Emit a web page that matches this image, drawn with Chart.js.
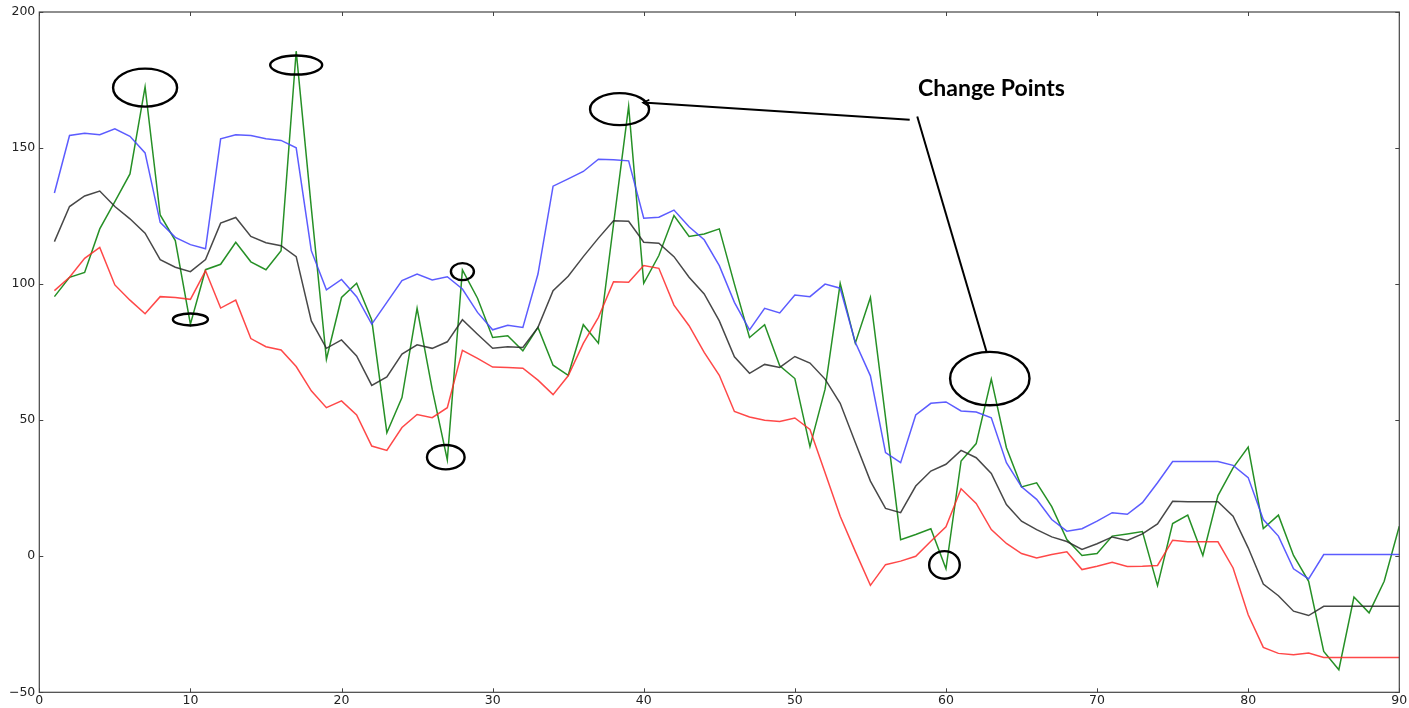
<!DOCTYPE html>
<html>
<head>
<meta charset="utf-8">
<script src="https://cdn.jsdelivr.net/npm/chart.js@4/dist/chart.umd.min.js"></script>
<style>
  html, body { margin: 0; padding: 0; background: #fff; }
  #wrap { width: 1409px; height: 708px; position: relative; }
</style>
</head>
<body>
<div id="wrap"><canvas id="c" width="1409" height="708"></canvas></div>
<script>
// Time steps
const steps = [1,2,3,4,5,6,7,8,9,10,11,12,13,14,15,16,17,18,19,20,21,22,23,24,25,26,27,28,29,30,
  31,32,33,34,35,36,37,38,39,40,41,42,43,44,45,46,47,48,49,50,51,52,53,54,55,56,57,58,59,60,
  61,62,63,64,65,66,67,68,69,70,71,72,73,74,75,76,77,78,79,80,81,82,83,84,85,86,87,88,89,90];

// Observed signal
const observed = [95.4,102.5,104.3,120.3,130.3,140.5,172.5,125.4,116,85.3,105.3,107.3,115.4,108.2,105.3,112.3,185.6,128,72.4,95.1,
  100.3,86.8,45.4,58.3,91.1,61.4,35.4,105.2,94.8,80.4,81,75.5,84.1,70.2,66.5,85.1,78.3,122,165.3,100.3,
  110.5,125.2,117.5,118.4,120.3,100,80.4,85.1,70,65.3,40.3,61.4,100.3,78.3,95.1,51,6.1,8,10.1,-4.6,
  35,41.4,65.1,39.9,25.5,27,18.2,6.1,0.3,1,7.4,8.2,9.1,-10.8,12,15.1,0.3,22.3,32.5,40.1,
  10.2,15.1,0.3,-9.2,-35,-41.7,-15,-20.8,-9.2,11];

// Upper band
const upper = [133.5,154.6,155.4,154.9,157.1,154.3,148.2,122.7,117.2,114.5,113,153.4,154.9,154.6,153.4,152.8,150.1,112.3,97.9,101.7,
  95.4,85.3,93.3,101.3,103.7,101.5,102.7,98.2,89.6,83.2,84.9,84.1,103.7,136,138.7,141.4,145.9,145.7,145.3,124.2,
  124.6,127.2,121.1,116.3,106.8,93.3,83.2,91.1,89.4,96,95.4,100,98.5,78.6,66.3,38.1,34.4,51.9,56.2,56.7,
  53.4,53,50.9,34.4,25.5,20.9,13.5,9.2,10.1,12.9,16,15.4,19.7,27,34.8,34.8,34.8,34.8,33.4,28.9,
  13.5,7.4,-4.6,-8.3,0.6,0.6,0.6,0.6,0.6,0.6];

// Mean
const mean = [115.6,128.5,132.4,134.2,128.5,124,118.7,109,106.2,104.6,109,122.4,124.5,117.5,115.2,114.1,110.1,86.5,76.4,79.5,
  73.6,62.8,65.9,74.3,77.7,76.4,78.8,86.9,81.6,76.4,77,76.7,84.1,97.6,102.9,110.1,116.9,123.3,123.1,115.4,
  115,110.1,102.5,96.4,86.5,73.3,67.2,70.5,69.4,73.4,71,65.1,56.2,41.8,27.6,17.6,16,25.8,31.3,33.8,
  38.9,36.2,30.4,19,12.9,9.8,7.1,5.4,2.5,4.6,7.1,5.8,8.2,11.9,20.2,20,20,20,14.7,3.1,
  -10.2,-14.5,-20.2,-21.8,-18.4,-18.4,-18.4,-18.4,-18.4,-18.4];

// Lower band
const lower = [97.6,102.5,109.5,113.5,99.7,94.1,89.1,95.4,95.1,94.4,104.9,91.2,94.1,80,77,75.8,69.7,60.8,54.6,57.1,
  51.9,40.5,38.9,47.3,52.1,50.9,54.6,75.7,72.7,69.5,69.4,69.1,64.7,59.4,66.3,78.2,87.8,100.9,100.7,106.8,
  105.8,92.3,84.7,74.9,66.5,53.2,51.2,50,49.5,50.8,46.6,30.7,14.7,1.8,-10.7,-3.1,-1.8,0,5.5,10.8,
  24.8,19.4,9.8,4.7,1,-0.6,0.6,1.6,-4.9,-3.7,-2.2,-3.8,-3.7,-3.4,5.9,5.3,5.3,5.3,-4.3,-21.5,
  -33.5,-35.7,-36.2,-35.6,-37.2,-37.2,-37.2,-37.2,-37.2,-37.2];

// Axis ticks
const xTicks = [0,10,20,30,40,50,60,70,80,90];
const yTicks = [-50,0,50,100,150,200];

// Circled change points: centre in data units
const markX = [7, 17, 10, 28, 26.9, 38.4, 62.9, 59.9];
const markY = [172.2, 180.5, 87, 104.6, 36.4, 164.3, 65.3, -3.2];
const markRx = [32, 26, 17.5, 11.5, 18.8, 29.5, 39.7, 15.3];
const markRy = [19, 9.5, 6, 8.5, 12.2, 16, 26.7, 13.8];

// Callout label and its two leader lines (data units)
const calloutText = 'Change Points';
const calloutAt = [58.15, 171.8];
const leaderA = [[57.6, 160.4], [39.95, 166.7]];
const leaderB = [[58.1, 161.6], [62.7, 74.9]];

const pts = arr => steps.map((s, i) => ({ x: s, y: arr[i] }));

function line(data, color) {
  return { data: pts(data), borderColor: color, borderWidth: 1.5, pointRadius: 0,
           fill: false, tension: 0, borderJoinStyle: 'miter' };
}

// Frame with inward ticks on all four sides
const framePlugin = {
  id: 'frame',
  afterDatasetsDraw(chart) {
    const { ctx, chartArea: a, scales: { x, y } } = chart;
    ctx.save();
    ctx.strokeStyle = '#444';
    ctx.lineWidth = 1.2;
    ctx.strokeRect(a.left, a.top, a.right - a.left, a.bottom - a.top);
    ctx.lineWidth = 1;
    const L = 4;
    ctx.beginPath();
    xTicks.forEach(v => {
      const px = Math.round(x.getPixelForValue(v)) + 0.5;
      ctx.moveTo(px, a.bottom); ctx.lineTo(px, a.bottom - L);
      ctx.moveTo(px, a.top); ctx.lineTo(px, a.top + L);
    });
    yTicks.forEach(v => {
      const py = Math.round(y.getPixelForValue(v)) + 0.5;
      ctx.moveTo(a.left, py); ctx.lineTo(a.left + L, py);
      ctx.moveTo(a.right, py); ctx.lineTo(a.right - L, py);
    });
    ctx.stroke();
    ctx.restore();
  }
};

// Ellipses, leader lines and the callout label
const notesPlugin = {
  id: 'notes',
  afterDraw(chart) {
    const { ctx, scales: { x, y } } = chart;
    const P = p => [x.getPixelForValue(p[0]), y.getPixelForValue(p[1])];
    ctx.save();
    ctx.strokeStyle = '#000';
    ctx.lineWidth = 2.4;
    markX.forEach((mx, i) => {
      ctx.beginPath();
      ctx.ellipse(x.getPixelForValue(mx), y.getPixelForValue(markY[i]), markRx[i], markRy[i], 0, 0, Math.PI * 2);
      ctx.stroke();
    });
    ctx.lineWidth = 2;
    [leaderA, leaderB].forEach(seg => {
      const a = P(seg[0]), b = P(seg[1]);
      ctx.beginPath(); ctx.moveTo(a[0], a[1]); ctx.lineTo(b[0], b[1]); ctx.stroke();
    });
    // small arrow head at the end of leader A
    const a = P(leaderA[0]), b = P(leaderA[1]);
    const ang = Math.atan2(b[1] - a[1], b[0] - a[0]);
    ctx.lineWidth = 1.6;
    ctx.beginPath();
    ctx.moveTo(b[0] - 7 * Math.cos(ang - 0.5), b[1] - 7 * Math.sin(ang - 0.5));
    ctx.lineTo(b[0], b[1]);
    ctx.lineTo(b[0] - 7 * Math.cos(ang + 0.5), b[1] - 7 * Math.sin(ang + 0.5));
    ctx.stroke();
    // label
    ctx.fillStyle = '#000';
    ctx.font = 'bold 19px Lato, "Open Sans", sans-serif';
    const w = ctx.measureText(calloutText).width;
    const size = 19 * 147 / w;
    ctx.font = 'bold ' + size.toFixed(2) + 'px Lato, "Open Sans", sans-serif';
    ctx.textBaseline = 'middle';
    ctx.textAlign = 'left';
    const t = P(calloutAt);
    ctx.fillText(calloutText, t[0], t[1]);
    ctx.restore();
  }
};

new Chart(document.getElementById('c'), {
  type: 'line',
  data: {
    datasets: [
      line(upper, 'rgba(70,70,255,0.88)'),
      line(mean, 'rgba(40,40,40,0.85)'),
      line(lower, 'rgba(255,40,40,0.85)'),
      line(observed, 'rgba(20,135,20,0.92)')
    ]
  },
  options: {
    responsive: false,
    animation: false,
    layout: { padding: { top: 12, right: 9.7, left: 0, bottom: 0 } },
    plugins: { legend: { display: false }, tooltip: { enabled: false } },
    scales: {
      x: {
        type: 'linear', min: 0, max: 90,
        afterBuildTicks: s => { s.ticks = xTicks.map(v => ({ value: v })); },
        afterFit: s => { s.height = 15.7; },
        grid: { display: false, drawTicks: false },
        border: { display: false },
        ticks: { padding: 1, color: '#222', font: { family: '"DejaVu Sans", sans-serif', size: 12.5 },
                 maxRotation: 0, autoSkip: false,
                 callback: v => String(v).replace('-', '\u2212') }
      },
      y: {
        type: 'linear', min: -50, max: 200,
        afterBuildTicks: s => { s.ticks = yTicks.map(v => ({ value: v })); },
        afterFit: s => { s.width = 39.3; },
        grid: { display: false, drawTicks: false },
        border: { display: false },
        ticks: { padding: 4, color: '#222', font: { family: '"DejaVu Sans", sans-serif', size: 12.5 },
                 autoSkip: false,
                 callback: v => String(v).replace('-', '\u2212') }
      }
    }
  },
  plugins: [framePlugin, notesPlugin]
});
</script>
</body>
</html>
